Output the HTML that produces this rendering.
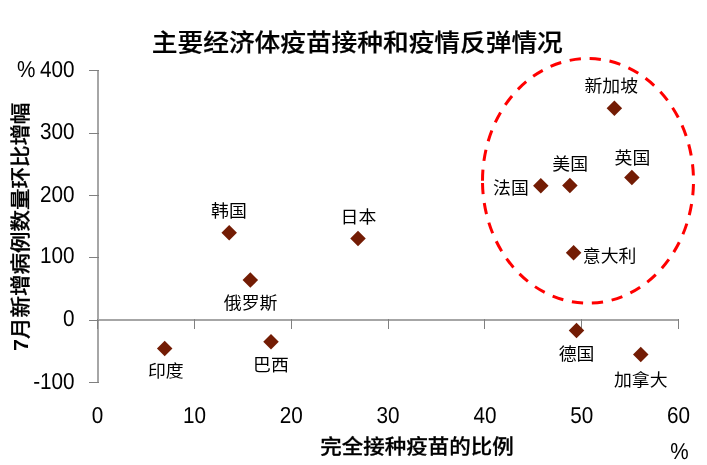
<!DOCTYPE html>
<html lang="zh-CN">
<head>
<meta charset="utf-8">
<title>主要经济体疫苗接种和疫情反弹情况</title>
<style>
html,body{margin:0;padding:0;background:#fff;}
body{width:707px;height:465px;overflow:hidden;}
svg{display:block;}
text{font-family:"Liberation Sans","Noto Sans CJK SC",sans-serif;fill:#1a1a1a;}
.title{font-size:25.7px;font-weight:500;fill:#000;stroke:#000;stroke-width:0.25px;}
.axt{font-size:21.5px;font-weight:500;fill:#000;stroke:#000;stroke-width:0.3px;}
.num{font-size:23px;fill:#000;text-rendering:geometricPrecision;}
.lab{font-size:17.9px;fill:#000;}
</style>
</head>
<body>
<svg width="707" height="465" viewBox="0 0 707 465">
<rect x="0" y="0" width="707" height="465" fill="#ffffff"/>
<text class="title" transform="translate(357.3 51.2) scale(1 0.935)" text-anchor="middle">主要经济体疫苗接种和疫情反弹情况</text>
<g fill="#a6a6a6">
<rect x="97" y="70" width="2" height="313"/>
<rect x="97" y="319" width="582" height="2"/>
</g>
<g fill="#808080">
<rect x="89" y="70" width="10" height="1"/>
<rect x="89" y="133" width="10" height="1"/>
<rect x="89" y="195" width="10" height="1"/>
<rect x="89" y="257" width="10" height="1"/>
<rect x="89" y="320" width="10" height="1"/>
<rect x="89" y="382" width="10" height="1"/>
<rect x="97" y="319" width="1" height="10"/>
<rect x="194" y="319" width="1" height="10"/>
<rect x="291" y="319" width="1" height="10"/>
<rect x="388" y="319" width="1" height="10"/>
<rect x="484" y="319" width="1" height="10"/>
<rect x="581" y="319" width="1" height="10"/>
<rect x="678" y="319" width="1" height="10"/>
</g>
<g class="num" text-anchor="end">
<text class="num" transform="translate(74.6 77.3) scale(0.9 1)">400</text>
<text class="num" transform="translate(74.6 139.4) scale(0.9 1)">300</text>
<text class="num" transform="translate(74.6 201.8) scale(0.9 1)">200</text>
<text class="num" transform="translate(74.6 263.3) scale(0.9 1)">100</text>
<text class="num" transform="translate(74.6 325.9) scale(0.9 1)">0</text>
<text class="num" transform="translate(74.6 389.3) scale(0.9 1)">-100</text>
</g>
<g text-anchor="middle">
<text class="num" transform="translate(97.6 423.3) scale(0.9 1)">0</text>
<text class="num" transform="translate(194.4 423.3) scale(0.9 1)">10</text>
<text class="num" transform="translate(291.3 423.3) scale(0.9 1)">20</text>
<text class="num" transform="translate(388.1 423.3) scale(0.9 1)">30</text>
<text class="num" transform="translate(484.9 423.3) scale(0.9 1)">40</text>
<text class="num" transform="translate(581.8 423.3) scale(0.9 1)">50</text>
<text class="num" transform="translate(678.6 423.3) scale(0.9 1)">60</text>
</g>
<text class="num" transform="translate(26.3 77) scale(0.9 1)" text-anchor="middle">%</text>
<text class="num" transform="translate(679.4 458.8) scale(0.9 1)" text-anchor="middle">%</text>
<text class="axt" transform="translate(417 453.6) scale(1 0.93)" text-anchor="middle">完全接种疫苗的比例</text>
<text class="axt" transform="translate(28 226.8) rotate(-90) scale(1 0.93)" text-anchor="middle"><tspan style="font-weight:700;stroke:none">7</tspan>月新增病例数量环比增幅</text>
<path d="M482.5 180.85 A105.5 122.35 0 1 1 693.5 180.85 A105.5 122.35 0 1 1 482.5 180.85" fill="none" stroke="#ff0000" stroke-width="3" stroke-dasharray="11.3 8.78"/>
<g fill="#731c04">
<path d="M614.40 100.55 L622.15 108.30 L614.40 116.05 L606.65 108.30 Z"/>
<path d="M631.85 169.75 L639.60 177.50 L631.85 185.25 L624.10 177.50 Z"/>
<path d="M569.90 177.75 L577.65 185.50 L569.90 193.25 L562.15 185.50 Z"/>
<path d="M540.80 178.10 L548.55 185.85 L540.80 193.60 L533.05 185.85 Z"/>
<path d="M573.60 245.05 L581.35 252.80 L573.60 260.55 L565.85 252.80 Z"/>
<path d="M576.50 322.65 L584.25 330.40 L576.50 338.15 L568.75 330.40 Z"/>
<path d="M640.75 346.85 L648.50 354.60 L640.75 362.35 L633.00 354.60 Z"/>
<path d="M358.00 230.75 L365.75 238.50 L358.00 246.25 L350.25 238.50 Z"/>
<path d="M229.20 224.90 L236.95 232.65 L229.20 240.40 L221.45 232.65 Z"/>
<path d="M250.30 272.35 L258.05 280.10 L250.30 287.85 L242.55 280.10 Z"/>
<path d="M271.00 333.90 L278.75 341.65 L271.00 349.40 L263.25 341.65 Z"/>
<path d="M164.70 340.65 L172.45 348.40 L164.70 356.15 L156.95 348.40 Z"/>
</g>
<g class="lab" text-anchor="middle">
<text class="lab" transform="translate(611.20 92.20) scale(1 0.93)">新加坡</text>
<text class="lab" transform="translate(632.50 164.40) scale(1 0.93)">英国</text>
<text class="lab" transform="translate(570.20 170.10) scale(1 0.93)">美国</text>
<text class="lab" transform="translate(511.00 194.10) scale(1 0.93)">法国</text>
<text class="lab" transform="translate(609.60 261.50) scale(1 0.93)">意大利</text>
<text class="lab" transform="translate(576.60 359.80) scale(1 0.93)">德国</text>
<text class="lab" transform="translate(640.80 386.35) scale(1 0.93)">加拿大</text>
<text class="lab" transform="translate(358.40 222.80) scale(1 0.93)">日本</text>
<text class="lab" transform="translate(228.95 217.25) scale(1 0.93)">韩国</text>
<text class="lab" transform="translate(250.60 309.30) scale(1 0.93)">俄罗斯</text>
<text class="lab" transform="translate(270.90 370.75) scale(1 0.93)">巴西</text>
<text class="lab" transform="translate(165.80 377.35) scale(1 0.93)">印度</text>
</g>
</svg>
</body>
</html>
